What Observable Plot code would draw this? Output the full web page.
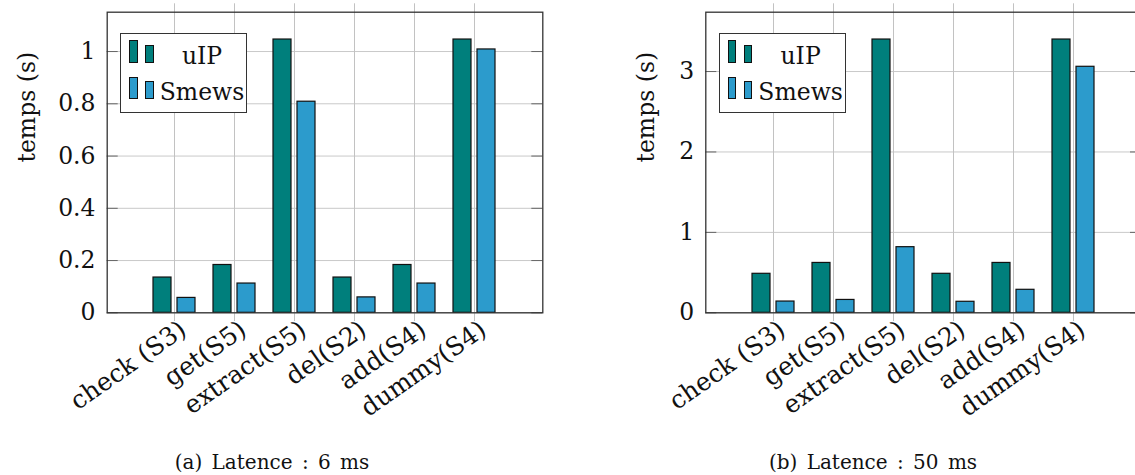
<!DOCTYPE html>
<html><head><meta charset="utf-8">
<script src="https://cdn.jsdelivr.net/npm/d3@7"></script>
<script src="https://cdn.jsdelivr.net/npm/@observablehq/plot@0.6"></script>
<style>
html,body{margin:0;padding:0;background:#fff;overflow:hidden;}
#root{position:relative;width:1135px;height:475px;overflow:hidden;font-family:"DejaVu Serif",serif;}
.panel{position:absolute;top:0;}
.panel svg{max-width:none !important;}
.legend{position:absolute;border:1.3px solid #333;background:#fff;box-sizing:border-box;}
.sw{position:absolute;border:1.2px solid #111;box-sizing:border-box;}
.lt{position:absolute;font-size:23.5px;line-height:28px;transform:translateX(-50%);color:#111;white-space:nowrap;}
.cap{position:absolute;font-size:20px;transform:translate(-50%,-50%);white-space:nowrap;word-spacing:3px;color:#111;}
</style></head><body><div id="root"></div>
<script>
// ---- data ----
const categories = ["check (S3)", "get(S5)", "extract(S5)", "del(S2)", "add(S4)", "dummy(S4)"];
const seriesNames = ["uIP", "Smews"];
const seriesColors = ["#007f7c", "#2c9bcc"];
const uip6   = [0.135, 0.183, 1.046, 0.135, 0.183, 1.046];
const smews6 = [0.057, 0.112, 0.808, 0.059, 0.112, 1.008];
const uip50   = [0.485, 0.620, 3.398, 0.485, 0.620, 3.398];
const smews50 = [0.140, 0.160, 0.816, 0.137, 0.286, 3.059];
const yTicks6  = [0, 0.2, 0.4, 0.6, 0.8, 1];
const yLabels6 = ["0", "0.2", "0.4", "0.6", "0.8", "1"];
const yTicks50  = [0, 1, 2, 3];
const yLabels50 = ["0", "1", "2", "3"];
const yTitle = "temps (s)";
const captions = ["(a) Latence : 6 ms", "(b) Latence : 50 ms"];

const FONT = '"DejaVu Serif", serif';
const FS = 23.5, FSX = 25;
const root = document.getElementById("root");
const H = 420, MT = 11.7, MB = 107.7;

function panel(cfg) {
  const rows = categories.map((c, i) => ({cat: c, uip: cfg.uip[i], smews: cfg.smews[i]}));
  const plotW = cfg.width - cfg.marginLeft - cfg.marginRight;
  const ymax = d3.max([...cfg.uip, ...cfg.smews]) * 1.1;
  const chart = Plot.plot({
    width: cfg.width, height: H,
    marginLeft: cfg.marginLeft, marginRight: cfg.marginRight, marginTop: MT, marginBottom: MB,
    style: {fontFamily: FONT, fontSize: FS + "px", background: "transparent", overflow: "visible", color: "#111", maxWidth: "none"},
    x: {type: "band", domain: categories, paddingInner: 0.694, paddingOuter: 0.947, axis: null},
    y: {domain: [0, ymax], axis: null},
    marks: [
      Plot.ruleY(cfg.yTicks, {y: d => d, stroke: "#c9c9c9", strokeWidth: 1}),
      Plot.ruleX(categories, {x: d => d, stroke: "#c2c2c2", strokeWidth: 1, insetTop: -8.4, insetBottom: -8.7}),
      Plot.tickY(cfg.yTicks, {y: d => d, stroke: "#666", strokeWidth: 1, insetRight: plotW - 11}),
      Plot.tickY(cfg.yTicks, {y: d => d, stroke: "#666", strokeWidth: 1, insetLeft: plotW - 11}),
      Plot.barY(rows, {x: "cat", y: "uip", dx: -12, fill: seriesColors[0], stroke: "#111", strokeWidth: 1.2}),
      Plot.barY(rows, {x: "cat", y: "smews", dx: 12, fill: seriesColors[1], stroke: "#111", strokeWidth: 1.2}),
      Plot.frame({stroke: "#333", strokeWidth: 1.3}),
      Plot.text(cfg.yTicks, {y: d => d, text: cfg.yLabels, frameAnchor: "left", textAnchor: "end", dx: -11.7, fontSize: FS, fontFamily: FONT, fill: "#111"}),
      Plot.text(categories, {x: d => d, text: d => d, frameAnchor: "bottom", rotate: -35, textAnchor: "end", lineAnchor: "middle", dx: 9, dy: 14, fontSize: FSX, fontFamily: FONT, fill: "#111"}),
      Plot.text([yTitle], {text: d => d, frameAnchor: "left", rotate: -90, dx: cfg.labelDx, fontSize: FS, fontFamily: FONT, fill: "#111"})
    ]
  });
  chart.style.maxWidth = "none";
  const wrap = document.createElement("div");
  wrap.className = "panel";
  wrap.style.left = cfg.left + "px";
  wrap.style.width = cfg.width + "px";
  wrap.appendChild(chart);
  root.appendChild(wrap);

  // legend
  const lg = document.createElement("div");
  lg.className = "legend";
  lg.style.left = (cfg.left + cfg.marginLeft + 13.3) + "px";
  lg.style.top = "33.3px";
  lg.style.width = "127px";
  lg.style.height = "79.5px";
  const glyphs = [
    [{x: 8.3, t: 5.7, h: 23.3}, {x: 24.3, t: 10.7, h: 18.3}],
    [{x: 8.3, t: 42.4, h: 22.6}, {x: 24.3, t: 46.7, h: 18.3}]
  ];
  const textTop = [7.5, 44.2];
  seriesNames.forEach((name, k) => {
    glyphs[k].forEach(g => {
      const s = document.createElement("span");
      s.className = "sw";
      s.style.left = g.x + "px"; s.style.top = g.t + "px";
      s.style.width = "8.6px"; s.style.height = g.h + "px";
      s.style.background = seriesColors[k];
      lg.appendChild(s);
    });
    const t = document.createElement("span");
    t.className = "lt";
    t.textContent = name;
    t.style.left = "81px";
    t.style.top = textTop[k] + "px";
    lg.appendChild(t);
  });
  root.appendChild(lg);

  const cap = document.createElement("div");
  cap.className = "cap";
  cap.textContent = cfg.caption;
  cap.style.left = cfg.capX + "px";
  cap.style.top = "462px";
  root.appendChild(cap);
}

panel({left: 0, width: 560, marginLeft: 106.7, marginRight: 17.7, uip: uip6, smews: smews6,
       yTicks: yTicks6, yLabels: yLabels6, labelDx: -79.7, caption: captions[0], capX: 272});
panel({left: 560, width: 590, marginLeft: 145.3, marginRight: 9, uip: uip50, smews: smews50,
       yTicks: yTicks50, yLabels: yLabels50, labelDx: -59.3, caption: captions[1], capX: 873});
</script>
</body></html>
